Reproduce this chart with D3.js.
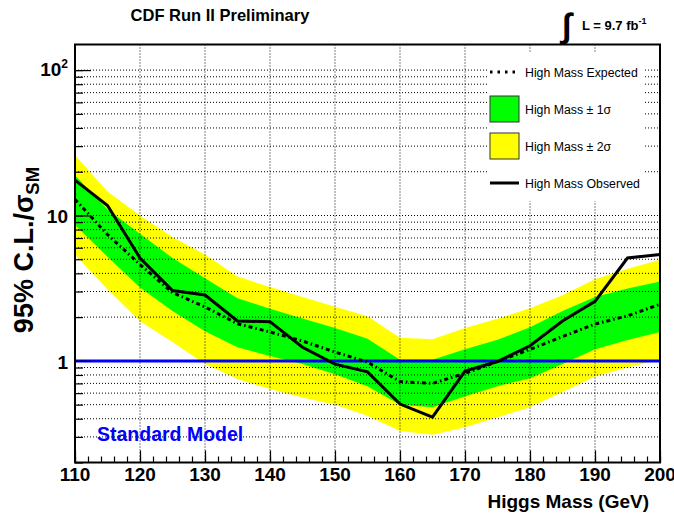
<!DOCTYPE html>
<html>
<head>
<meta charset="utf-8">
<script src="https://cdn.jsdelivr.net/npm/d3@7"></script>
<style>
  body { margin: 0; background: #fff; }
  svg { display: block; font-family: "Liberation Sans", Arial, sans-serif; }
  .grid line { stroke: #000; stroke-width: 1; stroke-dasharray: 1,2; }
  .bold { font-weight: bold; }
</style>
</head>
<body>
<div id="chart"></div>
<script>
// Higgs mass points (GeV)
var masses = [110, 115, 120, 125, 130, 135, 140, 145, 150, 155, 160, 165, 170, 175, 180, 185, 190, 195, 200];
// 95% CL limits / SM
var observed = [17.5, 11.7, 5.1, 3.05, 2.84, 1.88, 1.86, 1.24, 0.95, 0.84, 0.505, 0.41, 0.85, 0.99, 1.27, 1.88, 2.57, 5.1, 5.4];
var expected = [12.9, 7.4, 4.6, 2.95, 2.35, 1.8, 1.58, 1.37, 1.15, 0.98, 0.72, 0.70, 0.82, 0.99, 1.2, 1.47, 1.79, 2.04, 2.45];
var plus2 = [26, 14.6, 10.0, 7.1, 5.4, 3.8, 3.22, 2.75, 2.36, 2.03, 1.44, 1.41, 1.68, 1.95, 2.3, 2.83, 3.65, 4.3, 4.97];
var plus1 = [18.9, 11.0, 7.5, 5.1, 3.7, 2.7, 2.28, 1.96, 1.68, 1.42, 1.02, 1.02, 1.2, 1.4, 1.7, 2.2, 2.75, 3.15, 3.52];
var minus1 = [8.6, 5.2, 3.2, 2.2, 1.6, 1.24, 1.08, 0.95, 0.81, 0.67, 0.50, 0.48, 0.57, 0.67, 0.76, 0.95, 1.2, 1.39, 1.58];
var minus2 = [5.4, 3.1, 1.87, 1.35, 0.95, 0.75, 0.64, 0.56, 0.50, 0.42, 0.33, 0.31, 0.35, 0.41, 0.48, 0.61, 0.78, 0.9, 1.02];

var xMajor = [110, 120, 130, 140, 150, 160, 170, 180, 190, 200];
var yLabels = [1, 10, 100];
var smLevel = 1;

var legendItems = [
  {label: "High Mass Expected", kind: "exp"},
  {label: "High Mass \u00b1 1\u03c3", kind: "g"},
  {label: "High Mass \u00b1 2\u03c3", kind: "y"},
  {label: "High Mass Observed", kind: "obs"}
];

var width = 674, height = 516;
var margin = {top: 44.5, right: 14, bottom: 53.5, left: 75};

var svg = d3.select("#chart").append("svg")
    .attr("width", width)
    .attr("height", height);

var x = d3.scaleLinear().domain([110, 200]).range([margin.left, width - margin.right]);
var y = d3.scaleLog().domain([0.2, 150]).range([height - margin.bottom, margin.top]);

var rows = masses.map(function (m, i) {
  return {m: m, obs: observed[i], exp: expected[i], p2: plus2[i], p1: plus1[i], m1: minus1[i], m2: minus2[i]};
});

//log grid values 0.2 .. 100
var yGrid = [];
[0.1, 1, 10].forEach(function (dec) {
  for (var k = 1; k <= 9; k++) {
    var v = +(k * dec).toPrecision(2);
    if (v >= 0.2) yGrid.push(v);
  }
});
yGrid.push(100);

// bands
var band = function (lo, hi) {
  return d3.area().x(function (d) { return x(d.m); })
      .y0(function (d) { return y(d[lo]); })
      .y1(function (d) { return y(d[hi]); });
};
svg.append("path").datum(rows).attr("d", band("m2", "p2")).attr("fill", "#ffff00");
svg.append("path").datum(rows).attr("d", band("m1", "p1")).attr("fill", "#00ff00");

// grid
var grid = svg.append("g").attr("class", "grid");
grid.selectAll("line.h").data(yGrid).enter().append("line")
    .attr("x1", x(110)).attr("x2", x(200))
    .attr("y1", function (d) { return y(d); }).attr("y2", function (d) { return y(d); });
grid.selectAll("line.v").data(xMajor.slice(1, -1)).enter().append("line")
    .attr("x1", function (d) { return x(d); }).attr("x2", function (d) { return x(d); })
    .attr("y1", y(150)).attr("y2", y(0.2));

// SM line
svg.append("line")
    .attr("x1", x(110)).attr("x2", x(200))
    .attr("y1", y(smLevel)).attr("y2", y(smLevel))
    .attr("stroke", "#0000ff").attr("stroke-width", 3);

var line = function (key) {
  return d3.line().x(function (d) { return x(d.m); }).y(function (d) { return y(d[key]); });
};
svg.append("path").datum(rows).attr("d", line("exp"))
    .attr("fill", "none").attr("stroke", "#000").attr("stroke-width", 3)
    .attr("stroke-dasharray", "4,3,1.5,3");
svg.append("path").datum(rows).attr("d", line("obs"))
    .attr("fill", "none").attr("stroke", "#000").attr("stroke-width", 3);

// axes (ticks pointing inwards, like ROOT)
var xAxis = d3.axisTop(x).tickValues(d3.range(110, 201, 2))
    .tickSize(6).tickFormat("");
svg.append("g").attr("transform", "translate(0," + y(0.2) + ")").call(xAxis)
    .call(function (g) { g.select(".domain").remove(); g.selectAll("line").attr("stroke-width", 1.2); });
svg.append("g").attr("transform", "translate(0," + y(0.2) + ")")
    .call(d3.axisTop(x).tickValues(xMajor).tickSize(12).tickFormat(""))
    .call(function (g) { g.select(".domain").remove(); g.selectAll("line").attr("stroke-width", 1.2); });

svg.append("g").attr("transform", "translate(" + x(110) + ",0)")
    .call(d3.axisRight(y).tickValues(yGrid).tickSize(8).tickFormat(""))
    .call(function (g) { g.select(".domain").remove(); g.selectAll("line").attr("stroke-width", 1.2); });
svg.append("g").attr("transform", "translate(" + x(110) + ",0)")
    .call(d3.axisRight(y).tickValues(yLabels).tickSize(16).tickFormat(""))
    .call(function (g) { g.select(".domain").remove(); g.selectAll("line").attr("stroke-width", 1.2); });

// frame
svg.append("rect")
    .attr("x", x(110)).attr("y", y(150))
    .attr("width", x(200) - x(110)).attr("height", y(0.2) - y(150))
    .attr("fill", "none").attr("stroke", "#000").attr("stroke-width", 2);

// tick labels
svg.selectAll("text.xl").data(xMajor).enter().append("text")
    .attr("class", "bold")
    .attr("x", function (d) { return x(d); })
    .attr("y", 481)
    .attr("text-anchor", "middle")
    .attr("font-size", 19)
    .text(function (d) { return d; });

svg.selectAll("text.yl").data(yLabels.slice(0, 2)).enter().append("text")
    .attr("class", "bold")
    .attr("x", 68)
    .attr("y", function (d) { return y(d) + 8; })
    .attr("text-anchor", "end")
    .attr("font-size", 19)
    .text(function (d) { return d; });
var hundred = svg.append("text").attr("class", "bold")
    .attr("x", 68).attr("y", y(100) + 6).attr("text-anchor", "end").attr("font-size", 19);
hundred.append("tspan").text("10");
hundred.append("tspan").attr("font-size", 12).attr("dy", -8).text("2");

// axis titles
svg.append("text").attr("class", "bold")
    .attr("x", 649).attr("y", 508)
    .attr("text-anchor", "end").attr("font-size", 19)
    .text("Higgs Mass (GeV)");

var ytitle = svg.append("text").attr("class", "bold")
    .attr("transform", "translate(33,250) rotate(-90)")
    .attr("text-anchor", "middle").attr("font-size", 27);
ytitle.append("tspan").text("95% C.L./\u03c3");
ytitle.append("tspan").attr("font-size", 18.5).attr("dy", 6).text("SM");

// header texts
svg.append("text").attr("class", "bold")
    .attr("x", 220).attr("y", 21).attr("text-anchor", "middle").attr("font-size", 16.5)
    .text("CDF Run II Preliminary");

svg.append("text").attr("class", "bold").attr("x", 562).attr("y", 37).attr("font-size", 34).text("\u222b");
var lumi = svg.append("text").attr("class", "bold")
    .attr("x", 582).attr("y", 30).attr("font-size", 13);
lumi.append("tspan").text("L = 9.7 fb");
lumi.append("tspan").attr("font-size", 9).attr("dy", -6).text("-1");

svg.append("text").attr("class", "bold")
    .attr("x", 97).attr("y", 441).attr("font-size", 19.5).attr("fill", "#0000ff")
    .text("Standard Model");

// legend
var legend = svg.append("g");
legend.append("rect").attr("x", 487).attr("y", 53).attr("width", 158).attr("height", 148).attr("fill", "#fff");
var entry = legend.selectAll("g.entry").data(legendItems).enter().append("g")
    .attr("transform", function (d, i) { return "translate(490," + (72 + i * 37) + ")"; });
entry.each(function (d) {
  var g = d3.select(this);
  if (d.kind == "exp" || d.kind == "obs") {
    g.append("line").attr("x1", 0).attr("x2", 29).attr("y1", 0).attr("y2", 0)
        .attr("stroke", "#000").attr("stroke-width", 3)
        .attr("stroke-dasharray", d.kind == "exp" ? "2.5,5" : null);
  } else {
    g.append("rect").attr("x", 0).attr("y", -13).attr("width", 29).attr("height", 26)
        .attr("fill", d.kind == "g" ? "#00ff00" : "#ffff00")
        .attr("stroke", "#333").attr("stroke-width", 1);
  }
  g.append("text").attr("x", 35).attr("y", 4.5).attr("font-size", 12.3).text(d.label);
});
</script>
</body>
</html>
